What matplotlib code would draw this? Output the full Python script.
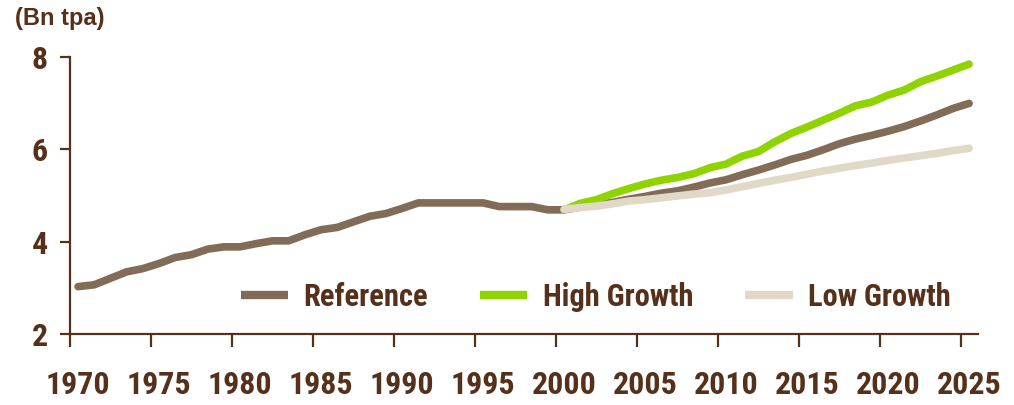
import numpy as np
import matplotlib
matplotlib.use("Agg")
import matplotlib.pyplot as plt

plt.rcParams['font.family'] = ['Roboto Condensed', 'DejaVu Sans']
plt.rcParams['font.weight'] = 'bold'

dark = '#55301a'

years = list(range(1970, 2026))
proj_years = list(range(2000, 2026))

reference = [3.03, 3.07, 3.21, 3.35, 3.42, 3.53, 3.66, 3.72, 3.84, 3.89,
             3.89, 3.96, 4.02, 4.02, 4.15, 4.26, 4.31, 4.43, 4.55, 4.61,
             4.72, 4.84, 4.84, 4.84, 4.84, 4.84, 4.76, 4.76, 4.76, 4.69,
             4.69, 4.75, 4.80, 4.85, 4.92, 4.98, 5.05, 5.10, 5.18, 5.27,
             5.34, 5.45, 5.55, 5.66, 5.78, 5.87, 5.99, 6.12, 6.22, 6.30,
             6.39, 6.49, 6.61, 6.74, 6.88, 6.99]
high_growth = [4.69, 4.83, 4.91, 5.04, 5.15, 5.25, 5.33, 5.39, 5.47, 5.60,
               5.68, 5.85, 5.95, 6.16, 6.34, 6.48, 6.63, 6.78, 6.94, 7.02,
               7.17, 7.28, 7.46, 7.58, 7.71, 7.84]
low_growth = [4.70, 4.74, 4.77, 4.82, 4.88, 4.91, 4.95, 4.99, 5.03, 5.06,
              5.12, 5.19, 5.26, 5.33, 5.39, 5.46, 5.53, 5.59, 5.65, 5.70,
              5.76, 5.81, 5.86, 5.91, 5.97, 6.02]

label_years = list(range(1970, 2026, 5))
yticks = [2, 4, 6, 8]

fig = plt.figure(figsize=(10.14, 4.05), dpi=100)
ax = fig.add_axes([0.069, 0.1746, 0.8955, 0.6854])

lw = 5.5
ax.plot(years, reference, color='#826b57', lw=lw, solid_capstyle='round',
        solid_joinstyle='round', label='Reference')
ax.plot(proj_years, high_growth, color='#8fd400', lw=lw, solid_capstyle='round',
        solid_joinstyle='round', label='High Growth')
ax.plot(proj_years, low_growth, color='#e0d9c8', lw=lw, solid_capstyle='round',
        solid_joinstyle='round', label='Low Growth')

ax.set_xlim(1969.5, 2025.55)
ax.set_ylim(2, 8)

for s in ['top', 'right']:
    ax.spines[s].set_visible(False)
for s in ['left', 'bottom']:
    ax.spines[s].set_color(dark)
    ax.spines[s].set_linewidth(1.6)

# tick marks sit on category edges, year labels on category centres
ax.set_xticks([y - 0.5 for y in label_years])
ax.set_xticklabels([])
ax.set_xticks(label_years, minor=True)
ax.set_xticklabels([str(y) for y in label_years], minor=True)
ax.tick_params(axis='x', which='major', direction='out', length=9, width=1.6, color=dark)
ax.tick_params(axis='x', which='minor', length=0, pad=26, labelsize=23, labelcolor=dark)

ax.set_yticks(yticks)
ax.set_yticklabels([str(v) for v in yticks])
ax.tick_params(axis='y', direction='out', length=7, width=1.6, color=dark,
               pad=9, labelsize=23, labelcolor=dark)

fig.text(0.015, 0.955, '(Bn tpa)', fontsize=17, color=dark, fontweight='bold',
         family=['Liberation Sans', 'DejaVu Sans'], va='center', ha='left')

leg = ax.legend(loc='center', bbox_to_anchor=(0.579, 0.134), ncol=3, frameon=False,
                fontsize=22, handlelength=1.55, handletextpad=0.5, columnspacing=1.7,
                labelcolor=dark)
for h in leg.get_lines():
    h.set_linewidth(6)
    h.set_solid_capstyle('butt')

fig.savefig('out.png', dpi=100)
